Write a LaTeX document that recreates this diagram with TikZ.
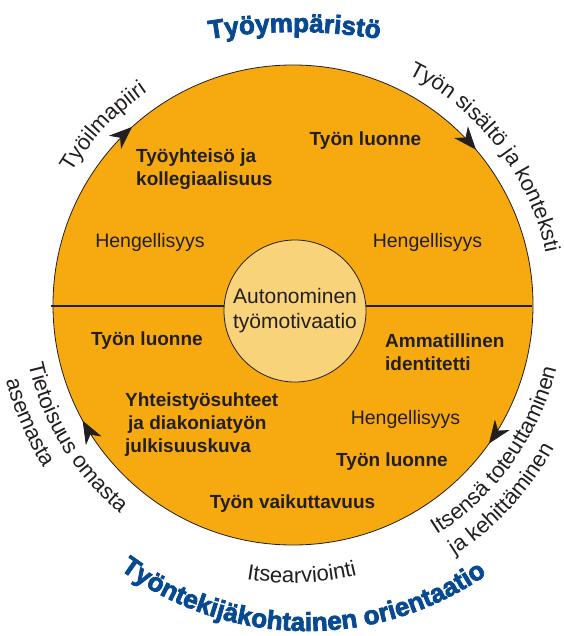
\documentclass[tikz,border=0pt]{standalone}
\usepackage{fontspec}
\setmainfont{Liberation Sans}
\newfontfamily\titlefont[FakeBold=3]{Liberation Sans Bold}
\usetikzlibrary{decorations.markings,decorations.text,arrows.meta,calc}

\definecolor{ringorange}{RGB}{246,170,16}
\definecolor{corefill}{RGB}{249,211,122}
\definecolor{inkgray}{RGB}{35,31,32}
\definecolor{titleblue}{RGB}{8,74,146}

\begin{document}
\begin{tikzpicture}
[
	x=1pt, y=1pt,
% Core circle style
	core/.style={
		circle,
		draw=inkgray,
		line width=0.8pt,
		fill=corefill,
		minimum size=142pt,
		inner sep=0pt,
		align=center,
		text=inkgray,
		font=\fontsize{21}{25}\selectfont},
% Line with Arrow style
	arrowline/.style={
		draw=inkgray,
		line width=0.8pt,
		postaction = decorate,
		decoration = {markings,
			mark = at position .133 with \arrow{Stealth[length=23pt,width=18pt,inset=7pt]},
			mark = at position .388 with \arrow{Stealth[length=23pt,width=18pt,inset=7pt]},
			mark = at position .598 with \arrow{Stealth[length=23pt,width=18pt,inset=7pt]},
			mark = at position .920 with \arrow{Stealth[length=23pt,width=18pt,inset=7pt]}
		}
	},
% Text along the ring
	ringtext/.style={
		decorate,
		decoration={text along path,
			text color=inkgray,
			text={|\fontsize{22}{22}\selectfont|#1}}},
% Blue title along an arc
	titletext/.style={
		decorate,
		decoration={text along path,
			text align=center,
			text color=titleblue,
			text={|\titlefont\fontsize{26}{26}\selectfont|#1}}},
% Label styles
	plain/.style={
		text=inkgray,
		inner sep=0pt,
		font=\fontsize{19.5}{23}\selectfont},
	strong/.style={
		text=inkgray,
		inner sep=0pt,
		align=left,
		font=\fontsize{19}{23}\selectfont\bfseries},
]

\useasboundingbox (-293,-331) rectangle (270,305);

% Centres of the arcs
\coordinate (C) at (0,0);
\coordinate (topc) at (1.5,-247);
\coordinate (botc) at (14,-11);
\coordinate (evalc) at (0,-3);
\coordinate (divW) at (-242,-1);
\coordinate (divE) at (239,-1);

% Ring
\fill [ringorange] (C) circle [radius=240];
\draw [inkgray, line width=1.3pt] (divW) -- (divE);
\draw [arrowline] ($(C)+(180:240)$) arc [start angle=180, end angle=-180, radius=240];

% Core
\node[core] (core) at (2,-6) {Autonominen\\työmotivaatio};

% Upper half
\node[strong, anchor=west] (yhteiso) at (-157,135.5) {Työyhteisö ja\\kollegiaalisuus};
\node[strong] (luonneN) at (72.5,164) {Työn luonne};
\node[plain] (hengW) at (-143,63) {Hengellisyys};
\node[plain] (hengE) at (134.5,63) {Hengellisyys};

% Lower half
\node[strong] (luonneW) at (-146,-36) {Työn luonne};
\node[strong, anchor=west] (ammatti) at (92,-47) {Ammatillinen\\identitetti};
\node[strong, anchor=west] (yhteistyo) at (-168,-120)
	{Yhteistyösuhteet\\\hspace*{3pt}ja diakoniatyön\\julkisuuskuva};
\node[plain] (hengSE) at (112.5,-114) {Hengellisyys};
\node[strong] (luonneSE) at (99,-157) {Työn luonne};
\node[strong] (vaikutus) at (-0.5,-199) {Työn vaikuttavuus};

% Texts round the ring
\path [ringtext={Työilmapiiri}]
	($(C)+(149.1:258)$) arc [start angle=149.1, end angle=100, radius=258];
\path [ringtext={Työn sisältö ja konteksti}]
	($(C)+(63.5:258)$) arc [start angle=63.5, end angle=0, radius=258];
\path [ringtext={Tietoisuus omasta}]
	($(C)+(192.6:271)$) arc [start angle=192.6, end angle=260, radius=271];
\path [ringtext={asemasta}]
	($(C)+(194.8:297)$) arc [start angle=194.8, end angle=250, radius=297];
\path [ringtext={Itsensä toteuttaminen}]
	($(C)+(-58:271)$) arc [start angle=-58, end angle=10, radius=271];
\path [ringtext={ja kehittäminen}]
	($(C)+(-57.2:298)$) arc [start angle=-57.2, end angle=0, radius=298];
\path [ringtext={Itsearviointi}, decoration={text align=center}]
	($(evalc)+(251.9:275)$) arc [start angle=251.9, end angle=291.9, radius=275];

% Titles
\path [titletext={Työympäristö}]
	($(topc)+(110:520)$) arc [start angle=110, end angle=70, radius=520];
\path [titletext={Työntekijäkohtainen orientaatio}]
	($(botc)+(230:315)$) arc [start angle=230, end angle=308.4, radius=315];

\end{tikzpicture}
\end{document}
